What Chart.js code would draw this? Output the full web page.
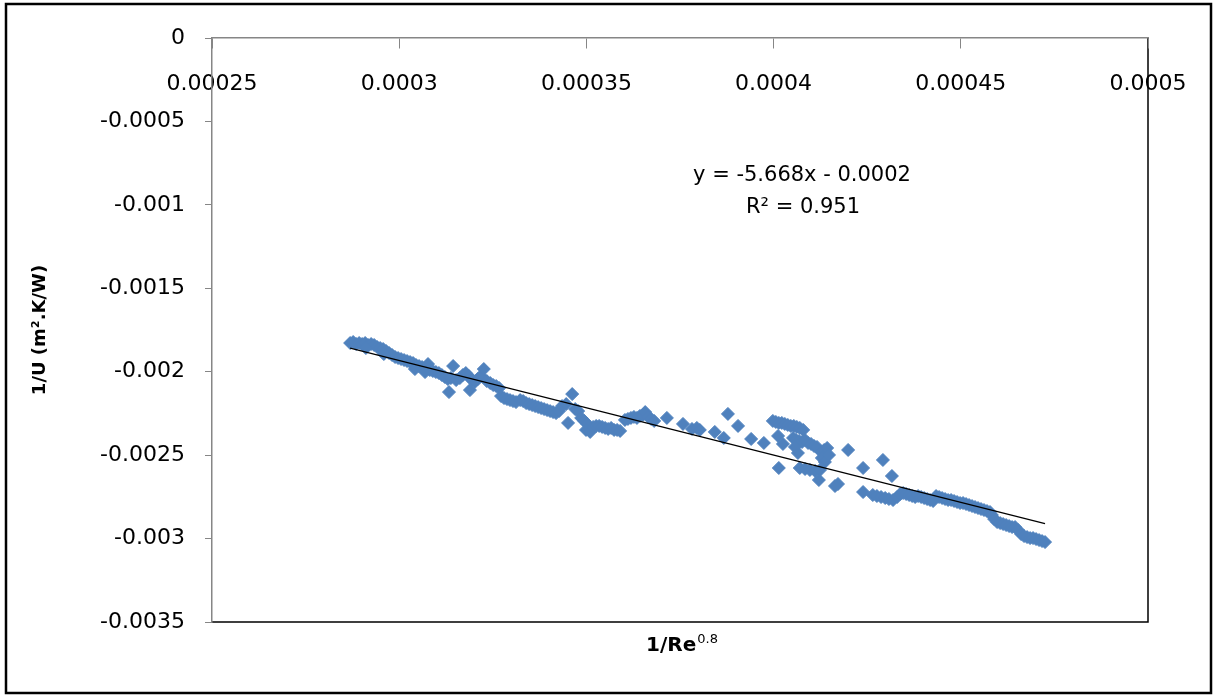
<!DOCTYPE html>
<html>
<head>
<meta charset="utf-8">
<script src="https://cdn.jsdelivr.net/npm/chart.js@4/dist/chart.umd.min.js"></script>
<style>
  html, body { margin: 0; padding: 0; background: #ffffff; }
  canvas { display: block; }
</style>
</head>
<body>
<canvas id="c" width="1213" height="695"></canvas>
<script>
// ---- data ----
const xTickLabels = ['0.00025', '0.0003', '0.00035', '0.0004', '0.00045', '0.0005'];
const yTickLabels = ['0', '-0.0005', '-0.001', '-0.0015', '-0.002', '-0.0025', '-0.003', '-0.0035'];

const invRe = [
  0.0002869,0.0002877,0.0002885,0.0002893,0.0002901,0.0002909,0.0002917,0.0002925,0.0002933,0.0002941,
  0.0002949,0.0002957,0.0002965,0.0002973,0.0002981,0.0002989,0.0002997,0.0003005,0.0002911,0.0002959,
  0.0003013,0.0003021,0.0003029,0.0003037,0.0003045,0.0003053,0.0003061,0.0003069,0.0003077,0.0003082,
  0.0003090,0.0003098,0.0003106,0.0003042,0.0003069,
  0.0003114,0.0003122,0.0003130,0.0003138,0.0003144,0.0003152,0.0003133,0.0003162,0.0003170,0.0003178,
  0.0003186,0.0003194,0.0003189,0.0003202,0.0003210,0.0003218,0.0003226,0.0003234,0.0003243,0.0003251,
  0.0003259,0.0003267,0.0003272,0.0003280,0.0003288,0.0003296,0.0003304,0.0003312,
  0.0003323,0.0003331,0.0003339,0.0003347,0.0003355,0.0003363,0.0003371,0.0003379,0.0003387,0.0003395,
  0.0003403,0.0003411,0.0003419,0.0003427,
  0.0003435,0.0003446,0.0003462,0.0003451,0.0003470,0.0003478,0.0003486,0.0003494,0.0003502,0.0003499,
  0.0003510,0.0003518,0.0003526,0.0003534,0.0003542,0.0003550,0.0003558,0.0003566,0.0003574,0.0003582,
  0.0003590,0.0003603,0.0003611,0.0003619,0.0003627,0.0003635,0.0003643,0.0003651,0.0003657,0.0003665,
  0.0003673,0.0003681,0.0003715,0.0003758,0.0003782,0.0003795,0.0003803,0.0003843,0.0003867,0.0003878,
  0.0003905,0.0003940,0.0003974,
  0.0003998,0.0004006,0.0004014,0.0004022,0.0004030,0.0004038,0.0004046,0.0004054,0.0004062,0.0004070,
  0.0004079,0.0004012,0.0004025,0.0004014,0.0004052,0.0004060,0.0004068,0.0004076,0.0004084,0.0004092,
  0.0004100,0.0004108,0.0004116,0.0004065,0.0004057,0.0004127,0.0004135,0.0004143,0.0004129,0.0004137,
  0.0004148,0.0004199,0.0004070,0.0004084,0.0004097,0.0004111,0.0004124,0.0004121,0.0004172,0.0004164,
  0.0004239,0.0004292,0.0004316,0.0004239,0.0004265,0.0004276,0.0004287,0.0004298,0.0004308,0.0004319,
  0.0004330,0.0004338,0.0004346,0.0004354,0.0004362,0.0004370,0.0004378,0.0004386,0.0004394,0.0004402,
  0.0004410,0.0004418,0.0004426,0.0004434,0.0004442,0.0004450,0.0004458,0.0004466,0.0004474,0.0004482,
  0.0004490,0.0004498,0.0004506,0.0004514,0.0004522,
  0.0004530,0.0004538,0.0004546,0.0004554,0.0004562,0.0004570,0.0004578,0.0004583,0.0004589,0.0004597,
  0.0004605,0.0004613,0.0004621,0.0004629,0.0004637,0.0004645,0.0004653,0.0004661,0.0004669,0.0004677,
  0.0004685,0.0004693,0.0004701,0.0004709,0.0004717,0.0004725
];

const invU = [
  -0.001828,-0.001822,-0.001834,-0.001828,-0.001834,-0.001828,-0.001840,-0.001834,-0.001840,-0.001852,
  -0.001858,-0.001864,-0.001876,-0.001888,-0.001900,-0.001912,-0.001918,-0.001924,-0.001858,-0.001894,
  -0.001930,-0.001936,-0.001942,-0.001948,-0.001960,-0.001966,-0.001972,-0.001978,-0.001954,-0.001990,
  -0.001996,-0.002002,-0.002008,-0.001984,-0.002002,
  -0.002020,-0.002032,-0.002044,-0.002038,-0.001966,-0.002050,-0.002122,-0.002038,-0.002020,-0.002008,
  -0.002026,-0.002050,-0.002110,-0.002062,-0.002044,-0.002026,-0.001984,-0.002056,-0.002068,-0.002080,
  -0.002086,-0.002098,-0.002146,-0.002158,-0.002164,-0.002170,-0.002176,-0.002182,
  -0.002170,-0.002176,-0.002188,-0.002194,-0.002200,-0.002206,-0.002212,-0.002218,-0.002224,-0.002230,
  -0.002236,-0.002242,-0.002248,-0.002236,
  -0.002206,-0.002194,-0.002134,-0.002307,-0.002224,-0.002236,-0.002277,-0.002295,-0.002313,-0.002349,
  -0.002361,-0.002331,-0.002325,-0.002325,-0.002331,-0.002337,-0.002343,-0.002337,-0.002349,-0.002349,
  -0.002355,-0.002289,-0.002283,-0.002277,-0.002271,-0.002277,-0.002265,-0.002259,-0.002242,-0.002271,
  -0.002283,-0.002295,-0.002277,-0.002313,-0.002343,-0.002337,-0.002349,-0.002361,-0.002397,-0.002253,
  -0.002325,-0.002403,-0.002427,
  -0.002295,-0.002301,-0.002307,-0.002307,-0.002313,-0.002319,-0.002325,-0.002325,-0.002331,-0.002337,
  -0.002349,-0.002385,-0.002433,-0.002577,-0.002397,-0.002409,-0.002415,-0.002421,-0.002409,-0.002427,
  -0.002433,-0.002445,-0.002451,-0.002487,-0.002451,-0.002481,-0.002469,-0.002457,-0.002517,-0.002541,
  -0.002499,-0.002469,-0.002577,-0.002583,-0.002589,-0.002595,-0.002589,-0.002649,-0.002673,-0.002685,
  -0.002577,-0.002529,-0.002625,-0.002721,-0.002739,-0.002745,-0.002751,-0.002757,-0.002763,-0.002769,
  -0.002751,-0.002733,-0.002727,-0.002733,-0.002739,-0.002745,-0.002751,-0.002745,-0.002751,-0.002757,
  -0.002763,-0.002769,-0.002775,-0.002745,-0.002751,-0.002757,-0.002763,-0.002769,-0.002769,-0.002775,
  -0.002781,-0.002787,-0.002787,-0.002793,-0.002799,
  -0.002805,-0.002811,-0.002817,-0.002823,-0.002829,-0.002835,-0.002841,-0.002859,-0.002883,-0.002901,
  -0.002907,-0.002913,-0.002919,-0.002925,-0.002931,-0.002931,-0.002949,-0.002973,-0.002985,-0.002991,
  -0.002997,-0.002997,-0.003003,-0.003009,-0.003015,-0.003021
];

// linear trendline as shown on the chart
const trendSlope = -5.668;
const trendIntercept = -0.000232;
const trendText = ['y = -5.668x - 0.0002', 'R\u00B2 = 0.951'];

// ---- build datasets ----
const points = invRe.map((x, i) => ({ x: x, y: invU[i] }));
const xMin = Math.min(...invRe), xMax = Math.max(...invRe);
const trendPoints = [xMin, xMax].map(x => ({ x: x, y: trendSlope * x + trendIntercept }));

function labelFor(list, v) {
  const s = list.find(t => Math.abs(Number(t) - v) < 1e-9);
  return s === undefined ? '' : s;
}

const FONT = "'DejaVu Sans', sans-serif";

const decorPlugin = {
  id: 'decor',
  beforeDraw(chart) {
    const ctx = chart.ctx;
    const a = chart.chartArea;
    ctx.save();
    // outer frame
    ctx.strokeStyle = '#000000';
    ctx.lineWidth = 2.5;
    ctx.strokeRect(6, 4, 1205, 689);
    // plot area right and bottom borders
    ctx.lineWidth = 1.5;
    ctx.beginPath();
    ctx.moveTo(a.right, a.top);
    ctx.lineTo(a.right, a.bottom);
    ctx.lineTo(a.left, a.bottom);
    ctx.stroke();
    ctx.restore();
  },
  afterDraw(chart) {
    const ctx = chart.ctx;
    const a = chart.chartArea;
    ctx.save();
    ctx.fillStyle = '#000000';
    // trendline equation
    ctx.font = '21px ' + FONT;
    ctx.textAlign = 'center';
    ctx.textBaseline = 'middle';
    ctx.fillText(trendText[0], 802, 176);
    ctx.fillText(trendText[1], 803, 208);
    // x-axis title with superscript
    const main = '1/Re', sup = '0.8';
    ctx.font = 'bold 20px ' + FONT;
    const w1 = ctx.measureText(main).width;
    ctx.font = '13px ' + FONT;
    const w2 = ctx.measureText(sup).width;
    const cx = (a.left + a.right) / 2 + 2;
    const x0 = cx - (w1 + w2 + 1) / 2;
    ctx.textAlign = 'left';
    ctx.textBaseline = 'alphabetic';
    ctx.font = 'bold 20px ' + FONT;
    ctx.fillText(main, x0, 651);
    ctx.font = '13px ' + FONT;
    ctx.fillText(sup, x0 + w1 + 1, 643);
    ctx.restore();
  }
};

new Chart(document.getElementById('c'), {
  type: 'scatter',
  data: {
    datasets: [
      {
        label: 'data',
        data: points,
        pointStyle: 'rectRot',
        pointRadius: 6.5,
        pointHoverRadius: 6.5,
        backgroundColor: '#4F81BD',
        borderColor: '#4F81BD',
        borderWidth: 1,
        order: 2
      },
      {
        label: 'trend',
        type: 'line',
        data: trendPoints,
        borderColor: '#000000',
        borderWidth: 1.2,
        pointRadius: 0,
        fill: false,
        order: 1
      }
    ]
  },
  options: {
    responsive: false,
    animation: false,
    devicePixelRatio: 1,
    layout: { padding: { left: 0, top: 38, right: 65, bottom: 73 } },
    plugins: { legend: { display: false }, tooltip: { enabled: false } },
    scales: {
      x: {
        type: 'linear',
        position: { y: 0 },
        min: 0.00025,
        max: 0.0005,
        grid: { drawOnChartArea: false, drawTicks: true, tickLength: 10, color: '#868686' },
        border: { display: true, color: '#868686', width: 1.5 },
        ticks: {
          stepSize: 0.00005,
          maxRotation: 0,
          autoSkip: false,
          padding: 23,
          color: '#000000',
          font: { family: FONT, size: 22 },
          callback: (v) => labelFor(xTickLabels, v)
        }
      },
      y: {
        type: 'linear',
        position: 'left',
        min: -0.0035,
        max: 0,
        afterFit: (s) => { s.width = 212; },
        grid: { drawOnChartArea: false, drawTicks: true, tickLength: 7, color: '#868686' },
        border: { display: true, color: '#868686', width: 1.5 },
        title: {
          display: true,
          text: '1/U (m\u00B2.K/W)',
          color: '#000000',
          font: { family: FONT, size: 18, weight: 'bold' },
          padding: { top: 30, bottom: 0 }
        },
        ticks: {
          stepSize: 0.0005,
          padding: 20,
          color: '#000000',
          font: { family: FONT, size: 22 },
          callback: (v) => labelFor(yTickLabels, v)
        }
      }
    }
  },
  plugins: [decorPlugin]
});
</script>
</body>
</html>
